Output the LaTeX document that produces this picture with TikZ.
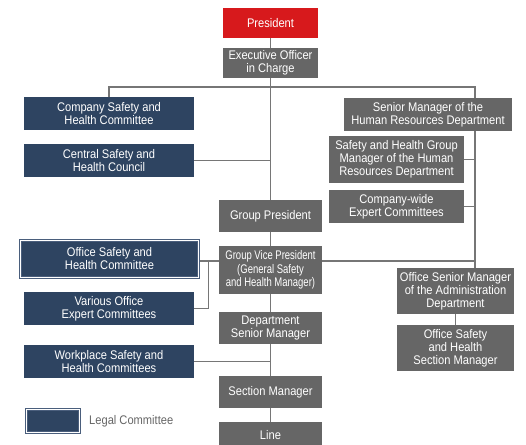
\documentclass[tikz,border=0pt]{standalone}
\usepackage{fontspec}
\setmainfont{Liberation Sans}[FakeStretch=0.89]
\newfontfamily\narrowfont{Liberation Sans}[FakeStretch=0.76]
\usetikzlibrary{backgrounds}
\definecolor{presred}{HTML}{D7191C}
\definecolor{boxgray}{HTML}{666666}
\definecolor{cmtnavy}{HTML}{2E4461}
\definecolor{rimnavy}{HTML}{4A5E7C}
\definecolor{linkgray}{HTML}{767676}
\begin{document}
\begin{tikzpicture}[x=1pt,y=-1pt,
  box/.style={inner sep=0pt, align=center, text=white, font=\fontsize{12.5}{13}\selectfont},
  role/.style={box, fill=boxgray},
  head/.style={box, fill=presred},
  cmt/.style={box, fill=cmtnavy},
  legal/.style={box, fill=cmtnavy, draw=rimnavy, line width=1pt, double=white, double distance=1pt},
  link/.style={draw=linkgray, line width=1.3pt}]
\useasboundingbox (0,0) rectangle (526,444);

% central line of command
\node[head, minimum width=95pt, minimum height=30pt] (pres) at (270.5,23) {President};
\node[role, minimum width=95pt, minimum height=30pt] (exec) at (270.5,63) {Executive Officer\\in Charge};
\node[role, minimum width=103pt, minimum height=32pt] (gp) at (270.5,216) {Group President};
\node[role, minimum width=103pt, minimum height=48pt, font=\narrowfont\fontsize{12.5}{13.3}\selectfont] (gvp) at (270.5,270) {Group Vice President\\(General Safety\\and Health Manager)};
\node[role, minimum width=103pt, minimum height=32pt] (dsm) at (270.5,328) {Department\\Senior Manager};
\node[role, minimum width=103pt, minimum height=32pt] (sm) at (270.5,392) {Section Manager};
\node[role, minimum width=103pt, minimum height=26pt] (ln) at (270.5,435) {Line};

% committees
\node[cmt, minimum width=170pt, minimum height=33pt] (csh) at (109,113.5) {Company Safety and\\Health Committee};
\node[cmt, minimum width=170pt, minimum height=33pt] (cshc) at (109,160.5) {Central Safety and\\Health Council};
\node[legal, minimum width=178pt, minimum height=37pt] (osh) at (109.5,259) {Office Safety and\\Health Committee};
\node[cmt, minimum width=170pt, minimum height=33pt] (voe) at (109,308.5) {Various Office\\Expert Committees};
\node[cmt, minimum width=170pt, minimum height=33pt] (wsh) at (109,361.5) {Workplace Safety and\\Health Committees};

% human resources / administration side
\node[role, minimum width=168pt, minimum height=33pt] (hr) at (428,114.5) {Senior Manager of the\\Human Resources Department};
\node[role, minimum width=135pt, minimum height=47pt] (shg) at (396.5,159.5) {Safety and Health Group\\Manager of the Human\\Resources Department};
\node[role, minimum width=135pt, minimum height=33pt] (cwe) at (396.5,206.5) {Company-wide\\Expert Committees};
\node[role, minimum width=117pt, minimum height=46pt] (osm) at (455.5,291) {Office Senior Manager\\of the Administration\\Department};
\node[role, minimum width=117pt, minimum height=46pt] (ossm) at (455.5,348) {Office Safety\\and Health\\Section Manager};

% key
\node[legal, minimum width=53pt, minimum height=23pt] (key) at (53,421.3) {};
\node[anchor=west, inner sep=0pt, text=boxgray, font=\fontsize{12.5}{13}\selectfont] (keytext) at (89,421.5) {Legal Committee};

% junction points
\coordinate (busR) at (475,87);
\coordinate (vpjoin) at (270.5,261);
\coordinate (vbr) at (208.7,261);

\begin{scope}[on background layer]
  \draw[link] (pres) -- (exec);
  \draw[link] (exec) -- (gp);
  \draw[link] (gp) -- (gvp);
  \draw[link] (gvp) -- (dsm);
  \draw[link] (dsm) -- (sm);
  \draw[link] (sm) -- (ln);
  \draw[link] (csh.north) |- (busR) -- (busR |- osm.north);
  \draw[link] (cshc.east) -- (cshc.east -| exec.south);
  \draw[link] (shg.east) -- (shg.east -| busR);
  \draw[link] (cwe.east) -- (cwe.east -| busR);
  \draw[link] (osh.east |- vpjoin) -- (vpjoin -| busR);
  \draw[link] (voe.east) -| (vbr);
  \draw[link] (wsh.east) -- (wsh.east -| sm.north);
  \draw[link] (osm) -- (ossm);
\end{scope}
\end{tikzpicture}
\end{document}
